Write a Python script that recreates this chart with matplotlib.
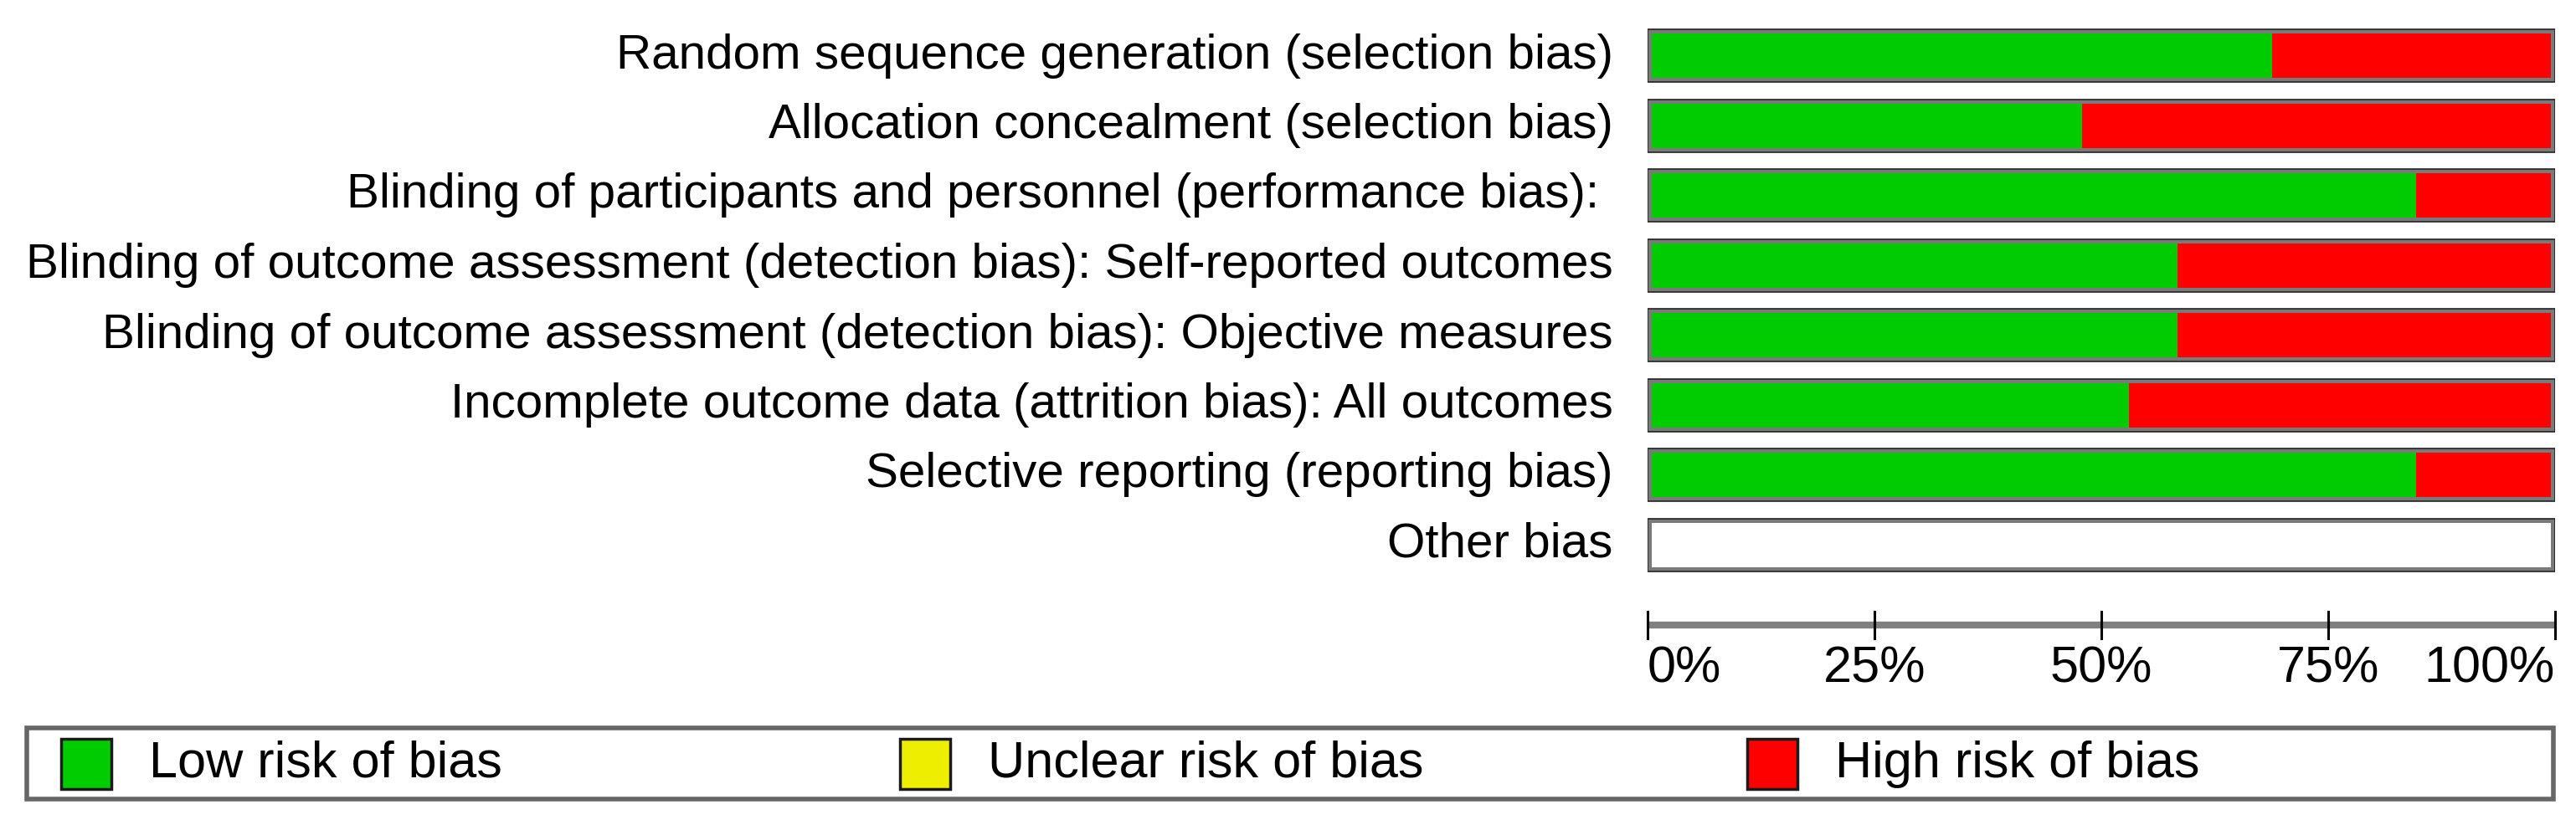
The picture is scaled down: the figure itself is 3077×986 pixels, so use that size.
import matplotlib
matplotlib.use("Agg")
import matplotlib.pyplot as plt
from matplotlib.patches import Rectangle

# risk of bias domains (top to bottom) and % of studies per judgement
domains = [
    "Random sequence generation (selection bias)",
    "Allocation concealment (selection bias)",
    "Blinding of participants and personnel (performance bias): ",
    "Blinding of outcome assessment (detection bias): Self-reported outcomes",
    "Blinding of outcome assessment (detection bias): Objective measures",
    "Incomplete outcome data (attrition bias): All outcomes",
    "Selective reporting (reporting bias)",
    "Other bias",
]
low_risk = [68.4, 47.4, 84.2, 57.9, 57.9, 52.6, 84.2, 0]
unclear_risk = [0, 0, 0, 0, 0, 0, 0, 0]
high_risk = [31.6, 52.6, 15.8, 42.1, 42.1, 47.4, 15.8, 0]

scale_ticks = [0, 25, 50, 75, 100]
scale_labels = ["0%", "25%", "50%", "75%", "100%"]

legend_labels = ["Low risk of bias", "Unclear risk of bias", "High risk of bias"]
legend_colors = ["#00cc00", "#eeee00", "#ff0000"]

W, H = 3077, 986
plt.rcParams['font.family'] = ['Liberation Sans', 'DejaVu Sans']
fs_label = 42
fs = 44

fig = plt.figure(figsize=(W / 100, H / 100), dpi=100)

# axes placed in pixel terms: x 0..100 -> 1968..3052, row i centred at 66.5 + 83.5*i
x0, x1 = 1968, 3052
row0, step = 66.5, 83.5
top_px = row0 - 0.5 * step
n_rows = 9.5  # room for the scale line below the bars
bot_px = top_px + n_rows * step
ax = fig.add_axes([x0 / W, 1 - bot_px / H, (x1 - x0) / W, (bot_px - top_px) / H])
ax.set_xlim(0, 100)
ax.set_ylim(n_rows - 0.5, -0.5)
ax.axis("off")

inset = 0.45
outer_h = 63 / step
inner_h = 53 / step
ypos = list(range(len(domains)))

# grey frame of each bar
ax.barh(ypos, 100, height=outer_h, left=0, color="#7a7a7a", edgecolor="#222222", linewidth=1.2)
ax.barh(ypos, 100 - 2 * inset, height=inner_h, left=inset, color="white", linewidth=0)

# stacked segments: low, unclear, high (last one runs to the frame)
for i in ypos:
    segs = [(low_risk[i], legend_colors[0]), (unclear_risk[i], legend_colors[1]),
            (high_risk[i], legend_colors[2])]
    segs = [s for s in segs if s[0] > 0]
    start = inset
    for k, (val, col) in enumerate(segs):
        end = 100 - inset if k == len(segs) - 1 else start + val
        ax.barh(i, end - start, height=inner_h, left=start, color=col, linewidth=0)
        start = end

for i, name in enumerate(domains):
    ax.text(-3.8, i, name, ha="right", va="center", fontsize=fs_label, color="black")

# percentage scale
scale_y = (747 - row0) / step
tick_half = 16 / step
ax.plot([0, 100], [scale_y, scale_y], color="#7f7f7f", linewidth=6, solid_capstyle="butt", clip_on=False)
for t, lab in zip(scale_ticks, scale_labels):
    ax.plot([t, t], [scale_y - tick_half, scale_y + tick_half], color="black", linewidth=2.2, clip_on=False)
    ha = "left" if t == scale_ticks[0] else ("right" if t == scale_ticks[-1] else "center")
    ax.text(t, scale_y + 24 / step, lab, ha=ha, va="top", fontsize=fs, color="black")

# legend box along the bottom
def fx(px):
    return px / W

def fy(py):
    return 1 - py / H

box_l, box_r, box_t, box_b = 32, 3050, 870, 955
fig.patches.append(Rectangle((fx(box_l), fy(box_b)), fx(box_r - box_l), (box_b - box_t) / H,
                             transform=fig.transFigure, facecolor="white", edgecolor="#666666",
                             linewidth=4))
patch_x = [73, 1075, 2087]
for px, lab, col in zip(patch_x, legend_labels, legend_colors):
    fig.patches.append(Rectangle((fx(px), fy(943)), fx(60), 60 / H, transform=fig.transFigure,
                                 facecolor=col, edgecolor="#1a1a1a", linewidth=2.5))
    fig.text(fx(px + 105), fy(913), lab, ha="left", va="center", fontsize=fs, color="black")

fig.savefig("out.png", dpi=100)
